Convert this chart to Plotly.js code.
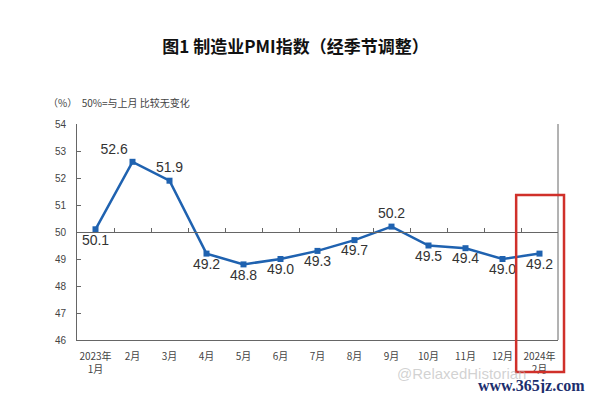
<!DOCTYPE html>
<html><head><meta charset="utf-8">
<script src="https://cdn.plot.ly/plotly-3.0.1.min.js"></script>
<style>body{margin:0;background:#fff}#c{width:591px;height:393px}</style>
</head><body><div id="c"></div>
<script>
const categories = ["2023年<br>1月","2月","3月","4月","5月","6月","7月","8月","9月","10月","11月","12月","2024年<br>2月"];
const pmiValues = [50.1,52.6,51.9,49.2,48.8,49.0,49.3,49.7,50.2,49.5,49.4,49.0,49.2];
const valueLabels = ["50.1","52.6","51.9","49.2","48.8","49.0","49.3","49.7","50.2","49.5","49.4","49.0","49.2"];
const labelPositions = ["bottom center","top left","top center","bottom center","bottom center","bottom center","bottom center","bottom center","top center","bottom center","bottom center","bottom center","bottom center"];
const yTicks = [46,47,48,49,50,51,52,53,54];

const cjk = '"Noto Sans CJK SC", "Liberation Sans", sans-serif';
const trace = {
  x: categories, y: pmiValues, type: 'scatter', mode: 'lines+markers+text',
  text: valueLabels, textposition: labelPositions,
  textfont: {family: 'Liberation Sans, Arial, sans-serif', size: 14, color: '#333'},
  line: {color: '#1f62b0', width: 2.5},
  marker: {symbol: 'square', size: 6, color: '#1f62b0'},
  cliponaxis: false, hoverinfo: 'none'
};
const trace2 = {x: categories, y: pmiValues, xaxis: 'x2', type: 'scatter', mode: 'none', hoverinfo:'none', showlegend:false};
const layout = {
  width: 591, height: 393,
  margin: {l: 77, r: 33, t: 124, b: 53},
  paper_bgcolor: '#fff', plot_bgcolor: '#fff',
  showlegend: false,
  title: {text: '图1 制造业PMI指数（经季节调整）', x: 0.5, xanchor: 'center', y: 0.88, yanchor: 'middle',
          font: {family: cjk, size: 17, color: '#111', weight: 'bold'}},
  xaxis: {type: 'category', showline: true, linecolor: '#666', linewidth: 1, ticks: '', showgrid: false,
          tickfont: {family: cjk, size: 10, color: '#444'}, range: [-0.5, 12.5], fixedrange: true, ticklabelstandoff: 7},
  xaxis2: {type: 'category', overlaying: 'x', anchor: 'free', position: 0.5, side: 'bottom',
           showline: true, linecolor: '#666', linewidth: 1, ticks: 'inside', ticklen: 4, tickcolor: '#666',
           tickson: 'boundaries', showticklabels: false, showgrid: false, range: [-0.5, 12.5]},
  yaxis: {range: [46, 54], tickvals: yTicks, ticktext: yTicks.map(String), showline: true, linecolor: '#666', linewidth: 1,
          ticks: 'inside', ticklen: 4, tickcolor: '#666', showgrid: false, zeroline: false,
          tickfont: {family: 'Liberation Sans Narrow, Liberation Sans, sans-serif', size: 10, color: '#444'}, ticklabelstandoff: 8},
  shapes: [
    {type: 'line', xref: 'paper', yref: 'paper', x0: 1, x1: 1, y0: 0, y1: 1, line: {color: '#666', width: 1}},
    {type: 'rect', xref: 'paper', yref: 'paper', x0: 0.913, x1: 1.0125, y0: -0.148, y1: 0.671, line: {color: '#d0302a', width: 2.5}}
  ],
  annotations: [
    {text: '（%）  50%=与上月 比较无变化', xref: 'paper', yref: 'paper', x: -0.065, y: 1.1, xanchor: 'left', yanchor: 'middle',
     showarrow: false, font: {family: cjk, size: 10, color: '#444'}},
    {text: '@RelaxedHistorian', xref: 'paper', yref: 'paper', x: 0.80, y: -0.155, xanchor: 'center', yanchor: 'middle',
     showarrow: false, font: {family: 'Liberation Sans, sans-serif', size: 15, color: 'rgba(180,180,180,0.6)'}},
    {text: '<b>www.365jz.com</b>', xref: 'paper', yref: 'paper', x: 1.06, y: -0.215, xanchor: 'right', yanchor: 'middle',
     showarrow: false, font: {family: 'Liberation Serif, serif', size: 16, color: '#1c2f6e'}}
  ]
};
Plotly.newPlot('c', [trace, trace2], layout, {displayModeBar: false, staticPlot: true});
</script></body></html>
